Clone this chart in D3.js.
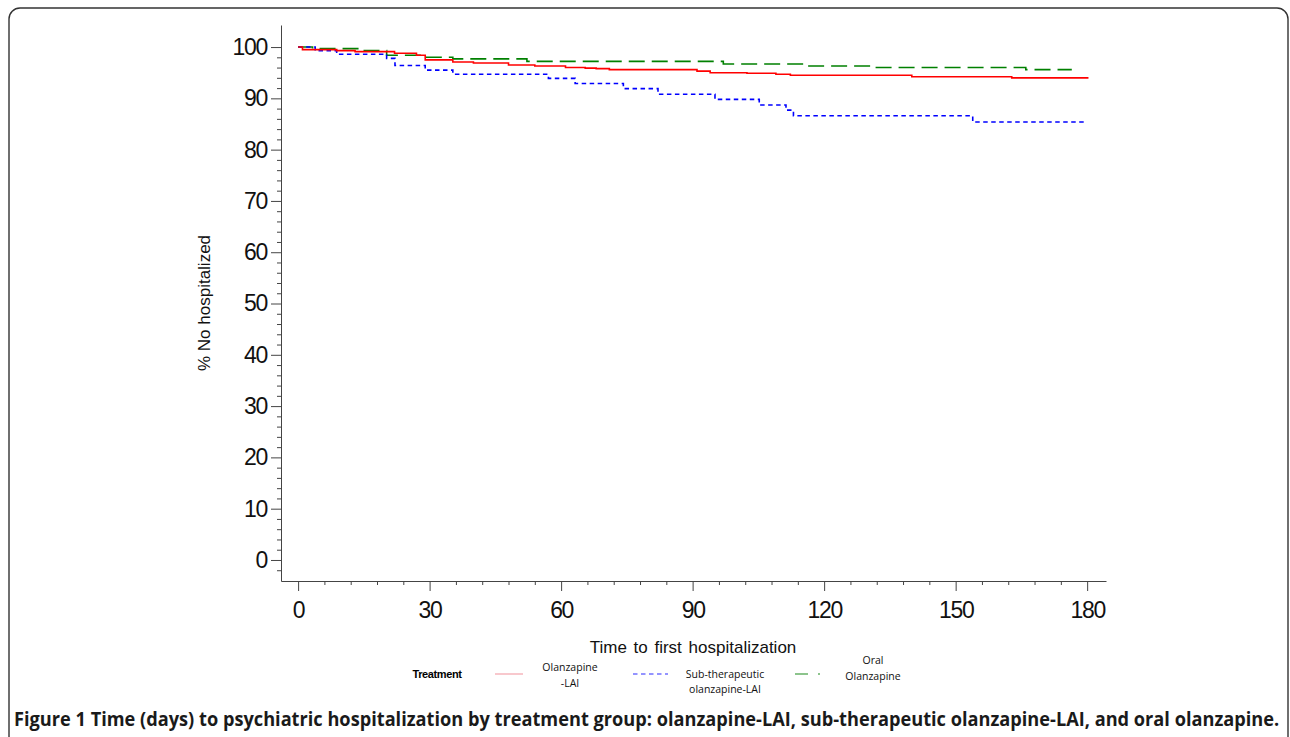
<!DOCTYPE html>
<html>
<head>
<meta charset="utf-8">
<script src="https://cdn.jsdelivr.net/npm/d3@7"></script>
<style>
    body { margin: 0; background: white; }
    svg { display: block; }
</style>
</head>
<body>
<svg id="km_svg" width="1290" height="737"></svg>
<script>
// step points [day, % not hospitalized]
const olanzapineLAI = [
    [0, 100], [1, 99.5], [8.8, 99.3], [13, 99.1], [22, 98.8], [27, 98.4],
    [29, 97.5], [35.3, 97.1], [40, 96.9], [48, 96.5], [54, 96.3], [61, 96.0],
    [65.5, 95.9], [68, 95.8], [71, 95.6], [91, 95.3], [94, 95.0], [102.4, 94.9],
    [109, 94.7], [112.3, 94.5], [140, 94.2], [162.8, 94.0], [180.3, 94.0]
];
const subTherapeutic = [
    [0, 100], [3.9, 99.3], [8.8, 98.6], [20.2, 97.8], [22.1, 96.4], [29, 95.5],
    [35.3, 94.7], [57.1, 93.9], [63.2, 92.9], [74.2, 91.9], [82.1, 90.8],
    [95.1, 89.8], [105.2, 88.7], [111.3, 87.7], [113, 86.6], [153.9, 85.4],
    [180, 85.4]
];
const oralOlanzapine = [
    [0, 100], [3.3, 99.7], [14.9, 99.3], [20.2, 98.4], [29, 98.0], [35.3, 97.7],
    [52.2, 97.2], [97, 96.7], [116, 96.3], [130.5, 96.0], [166, 95.6],
    [176.5, 95.6]
];

// axis ticks
const xMajor = [0, 30, 60, 90, 120, 150, 180];
const xMinor = d3.range(6, 180, 6).filter(d => d % 30 !== 0);
const yMajor = [0, 10, 20, 30, 40, 50, 60, 70, 80, 90, 100];
const yMinor = d3.range(-2, 101, 2).filter(d => d % 10 !== 0);

// legend entries
const seriesNames = [["Olanzapine", "-LAI"], ["Sub-therapeutic", "olanzapine-LAI"], ["Oral", "Olanzapine"]];
const caption = "Figure 1 Time (days) to psychiatric hospitalization by treatment group: olanzapine-LAI, sub-therapeutic olanzapine-LAI, and oral olanzapine.";

let svg = d3.select("#km_svg");

// rounded frame round the figure
svg.append("rect")
    .attr("x", 9).attr("y", 8)
    .attr("width", 1279).attr("height", 760)
    .attr("rx", 11)
    .style("fill", "none")
    .style("stroke", "#333")
    .style("stroke-width", 1.4);

// scales
let x = d3.scaleLinear().domain([-3.9, 184.3]).range([281, 1106]);
let y = d3.scaleLinear().domain([-4.1, 104.3]).range([581, 25]);

const tickFont = "'Liberation Sans', Arial, sans-serif";

// y axis, major then minor ticks
svg.append("g")
    .attr("transform", "translate(281,0)")
    .call(d3.axisLeft(y).tickValues(yMajor).tickSize(10).tickPadding(4).tickSizeOuter(0));
svg.append("g")
    .attr("transform", "translate(281,0)")
    .call(d3.axisLeft(y).tickValues(yMinor).tickSize(4).tickFormat("").tickSizeOuter(0))
    .select(".domain").remove();

// x axis
svg.append("g")
    .attr("transform", "translate(0,581)")
    .call(d3.axisBottom(x).tickValues(xMajor).tickSize(10).tickPadding(11).tickSizeOuter(0));
svg.append("g")
    .attr("transform", "translate(0,581)")
    .call(d3.axisBottom(x).tickValues(xMinor).tickSize(4).tickFormat("").tickSizeOuter(0))
    .select(".domain").remove();

svg.selectAll(".domain, .tick line").style("stroke", "#444").style("stroke-width", 1);
svg.selectAll(".tick text")
    .style("font-family", tickFont)
    .style("font-size", "23px")
    .style("letter-spacing", "-1.3px")
    .style("fill", "#111");

// axis titles
svg.append("text")
    .attr("transform", "translate(210,303) rotate(-90)")
    .attr("text-anchor", "middle")
    .style("font-family", tickFont)
    .style("font-size", "17px")
    .style("fill", "#111")
    .text("% No hospitalized");

svg.append("text")
    .attr("x", 693).attr("y", 653)
    .attr("text-anchor", "middle")
    .style("font-family", tickFont)
    .style("font-size", "17px")
    .style("word-spacing", "2px")
    .style("fill", "#111")
    .text("Time to first hospitalization");

// survival curves
let line = d3.line()
    .x(d => x(d[0]))
    .y(d => y(d[1]))
    .curve(d3.curveStepAfter);

const curves = [
    {data: oralOlanzapine, color: "#008000", dash: "16,7"},
    {data: subTherapeutic, color: "#0000ff", dash: "4.5,3.5"},
    {data: olanzapineLAI, color: "#ff0000", dash: null}
];

svg.selectAll(".curve")
    .data(curves)
    .enter()
    .append("path")
    .attr("class", "curve")
    .attr("d", d => line(d.data))
    .style("fill", "none")
    .style("stroke", d => d.color)
    .style("stroke-width", 1.6)
    .style("stroke-dasharray", d => d.dash);

// legend
const legendFont = "'Open Sans', 'Noto Sans', sans-serif";
svg.append("text")
    .attr("x", 437).attr("y", 678)
    .attr("text-anchor", "middle")
    .style("font-family", tickFont)
    .style("font-size", "11px")
    .style("font-weight", "bold")
    .style("letter-spacing", "-0.4px")
    .text("Treatment");

const legendItems = [
    {x1: 495, x2: 523, color: "#f4a3ab", dash: null, tx: 570, ty: [671, 687], names: seriesNames[0]},
    {x1: 633, x2: 668, color: "#2a2aff", dash: "4.5,3.5", tx: 725, ty: [678, 693], names: seriesNames[1]},
    {x1: 795, x2: 820, color: "#1a8a1a", dash: "13,10", tx: 873, ty: [664, 680], names: seriesNames[2]}
];

let items = svg.selectAll(".legendItem")
    .data(legendItems)
    .enter()
    .append("g")
    .attr("class", "legendItem");

items.append("line")
    .attr("x1", d => d.x1).attr("x2", d => d.x2)
    .attr("y1", 674).attr("y2", 674)
    .style("stroke", d => d.color)
    .style("stroke-width", 1.2)
    .style("stroke-dasharray", d => d.dash);

items.each(function (d) {
    let g = d3.select(this);
    d.names.forEach(function (name, i) {
        g.append("text")
            .attr("x", d.tx).attr("y", d.ty[i])
            .attr("text-anchor", "middle")
            .style("font-family", legendFont)
            .style("font-size", "10.5px")
            .style("fill", "#111")
            .text(name);
    });
});

// figure caption, squeezed horizontally to the width of the frame
let cap = svg.append("text")
    .attr("x", 0).attr("y", 0)
    .style("font-family", legendFont)
    .style("font-size", "19px")
    .style("font-weight", "bold")
    .style("fill", "#1a1a1a")
    .text(caption);
let capScale = 1266 / cap.node().getComputedTextLength();
cap.attr("transform", "translate(14,726) scale(" + Math.min(1, capScale) + ",1)");
</script>
</body>
</html>
